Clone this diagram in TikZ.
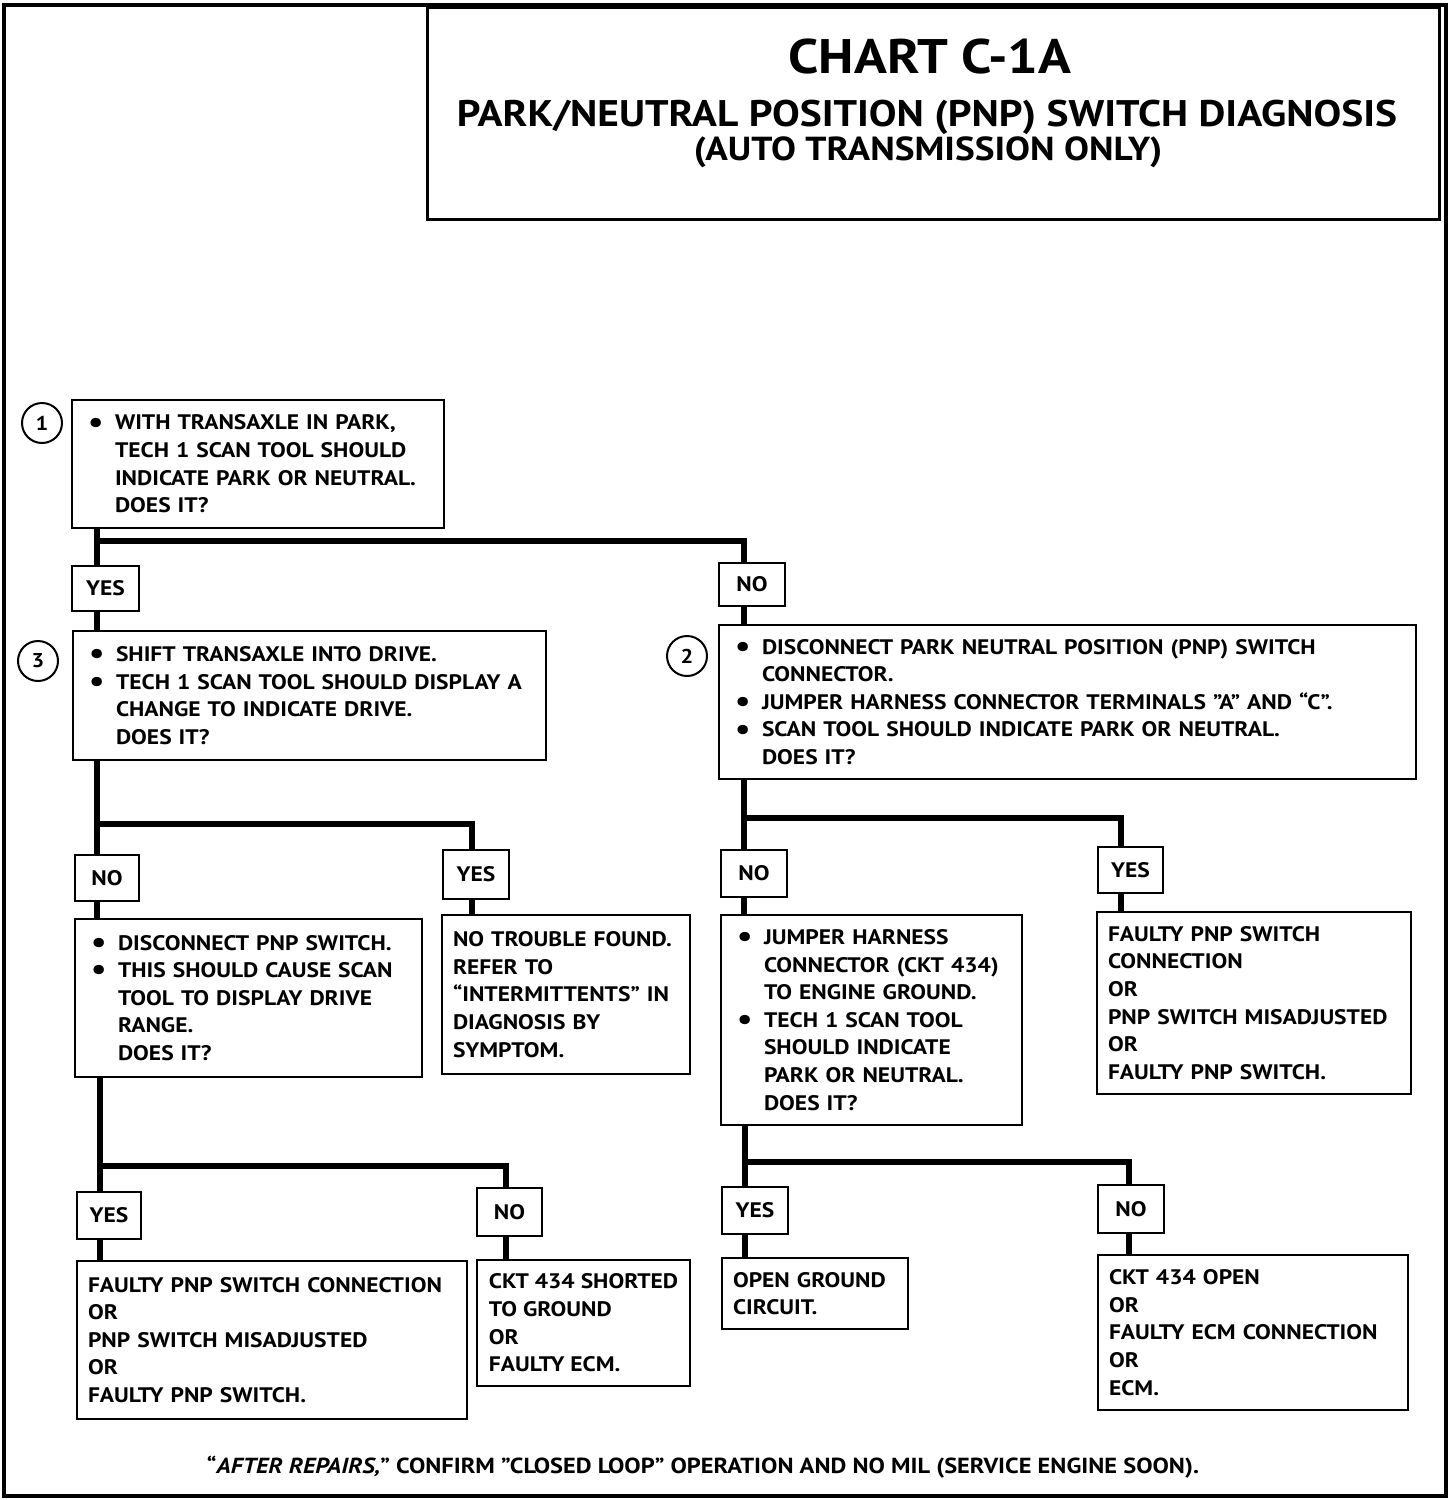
\documentclass[tikz,border=0pt]{standalone}
\usepackage{fontspec}
\setmainfont{PT Sans}[FakeStretch=1.12]
\newcommand\bl{\makebox[27pt][l]{\raisebox{-0.1em}{\scalebox{1.45}{\textbullet}}}}
\newcommand\ind{\hspace*{27pt}}
\newcommand\body{\bfseries\fontsize{21}{27.6}\selectfont}
\tikzset{
  box/.style={draw, line width=2pt, fill=white, anchor=north west, align=left,
    inner ysep=0pt, font=\body},
  bbox/.style={box, inner xsep=16pt},
  tbox/.style={box, inner xsep=11pt},
  lab/.style={draw, line width=2pt, fill=white, anchor=north west, inner sep=0pt,
    font=\body},
  num/.style={draw, circle, line width=2pt, minimum size=40pt, inner sep=0pt,
    font=\bfseries\fontsize{20}{20}\selectfont},
  conn/.style={line width=6.5pt, line cap=butt, line join=miter}
}
\begin{document}
\begin{tikzpicture}[x=1pt,y=-1pt]
\useasboundingbox (0,0) rectangle (1456,1500);
% outer frame
\draw[line width=4pt] (4,5) rectangle (1446,1496);
% title
\node[draw, line width=2.5pt, anchor=north west, minimum width=1012pt, minimum height=212pt, inner sep=0pt] (title) at (426,6) {};
\node[font=\bfseries\fontsize{48.5}{48}\selectfont] (t1txt) at (930,57) {CHART C-1A};
\node[font=\bfseries\fontsize{37}{37}\selectfont] (t2txt) at (927,117) {PARK/NEUTRAL POSITION (PNP) SWITCH DIAGNOSIS};
\node[font=\bfseries\fontsize{33.3}{33}\selectfont] (t3txt) at (928,152) {(AUTO TRANSMISSION ONLY)};

% boxes
\node[bbox, text width=340pt, minimum height=128pt] (b1) at (71,399)
 {\bl WITH TRANSAXLE IN PARK,\\\ind TECH 1 SCAN TOOL SHOULD\\\ind INDICATE PARK OR NEUTRAL.\\\ind DOES IT?};
\node[bbox, text width=441pt, minimum height=129pt] (b3) at (72,630)
 {\bl SHIFT TRANSAXLE INTO DRIVE.\\\bl TECH 1 SCAN TOOL SHOULD DISPLAY A\\\ind CHANGE TO INDICATE DRIVE.\\\ind DOES IT?};
\node[bbox, text width=665pt, minimum height=154pt] (b2) at (718,624)
 {\bl DISCONNECT PARK NEUTRAL POSITION (PNP) SWITCH\\\ind CONNECTOR.\\\bl JUMPER HARNESS CONNECTOR TERMINALS "A" AND “C”.\\\bl SCAN TOOL SHOULD INDICATE PARK OR NEUTRAL.\\\ind DOES IT?};
\node[bbox, text width=315pt, minimum height=158pt] (b4) at (74,918)
 {\bl DISCONNECT PNP SWITCH.\\\bl THIS SHOULD CAUSE SCAN\\\ind TOOL TO DISPLAY DRIVE\\\ind RANGE.\\\ind DOES IT?};
\node[tbox, text width=226pt, minimum height=159pt] (b5) at (441,914)
 {NO TROUBLE FOUND.\\REFER TO\\“INTERMITTENTS” IN\\DIAGNOSIS BY\\SYMPTOM.};
\node[bbox, text width=269pt, minimum height=210pt] (b6) at (720,914)
 {\bl JUMPER HARNESS\\\ind CONNECTOR (CKT 434)\\\ind TO ENGINE GROUND.\\\bl TECH 1 SCAN TOOL\\\ind SHOULD INDICATE\\\ind PARK OR NEUTRAL.\\\ind DOES IT?};
\node[tbox, text width=292pt, minimum height=182pt] (b7) at (1096,911)
 {FAULTY PNP SWITCH\\CONNECTION\\OR\\PNP SWITCH MISADJUSTED\\OR\\FAULTY PNP SWITCH.};
\node[tbox, text width=368pt, minimum height=158pt] (b8) at (76,1260)
 {FAULTY PNP SWITCH CONNECTION\\OR\\PNP SWITCH MISADJUSTED\\OR\\FAULTY PNP SWITCH.};
\node[box, inner xsep=0pt, minimum width=213pt, minimum height=126pt] (b9) at (476,1259)
 {CKT 434 SHORTED\\TO GROUND\\OR\\FAULTY ECM.};
\node[tbox, text width=164pt, minimum height=71pt] (b10) at (721,1257)
 {OPEN GROUND\\CIRCUIT.};
\node[tbox, text width=288pt, minimum height=155pt] (b11) at (1097,1254)
 {CKT 434 OPEN\\OR\\FAULTY ECM CONNECTION\\OR\\ECM.};

% circled numbers
\node[num] (c1) at (42,423) {1};
\node[num] (c3) at (38,661) {3};
\node[num] (c2) at (687,656) {2};

% labels
\node[lab, minimum width=67pt, minimum height=45pt] (yes1) at (71,565) {YES};
\node[lab, minimum width=66pt, minimum height=43pt] (no1) at (718,562) {NO};
\node[lab, minimum width=64pt, minimum height=46pt] (no2) at (74,854) {NO};
\node[lab, minimum width=66pt, minimum height=49pt] (yes2) at (442,849) {YES};
\node[lab, minimum width=66pt, minimum height=47pt] (no3) at (720,849) {NO};
\node[lab, minimum width=65pt, minimum height=46pt] (yes3) at (1097,846) {YES};
\node[lab, minimum width=64pt, minimum height=47pt] (yes4) at (76,1191) {YES};
\node[lab, minimum width=65pt, minimum height=48pt] (no4) at (476,1187) {NO};
\node[lab, minimum width=66pt, minimum height=47pt] (yes5) at (721,1186) {YES};
\node[lab, minimum width=66pt, minimum height=48pt] (no5) at (1097,1184) {NO};

% connectors
\coordinate (j1) at (97,541); \coordinate (j1r) at (744,541);
\draw[conn] (j1 |- b1.south) -- (j1 |- yes1.north);
\draw[conn] (j1 |- yes1.south) -- (j1 |- b3.north);
\draw[conn] (j1) -- (j1r) -- (j1r |- no1.north);
\draw[conn] (j1r |- no1.south) -- (j1r |- b2.north);

\coordinate (j2) at (97,824); \coordinate (j2r) at (472,824);
\draw[conn] (j2 |- b3.south) -- (j2 |- no2.north);
\draw[conn] (j2 |- no2.south) -- (j2 |- b4.north);
\draw[conn] (j2) -- (j2r) -- (j2r |- yes2.north);
\draw[conn] (j2r |- yes2.south) -- (j2r |- b5.north);

\coordinate (j3) at (744,818); \coordinate (j3r) at (1121,818);
\draw[conn] (j3 |- b2.south) -- (j3 |- no3.north);
\draw[conn] (j3 |- no3.south) -- (j3 |- b6.north);
\draw[conn] (j3) -- (j3r) -- (j3r |- yes3.north);
\draw[conn] (j3r |- yes3.south) -- (j3r |- b7.north);

\coordinate (j4) at (100,1166); \coordinate (j4r) at (506,1166);
\draw[conn] (j4 |- b4.south) -- (j4 |- yes4.north);
\draw[conn] (j4 |- yes4.south) -- (j4 |- b8.north);
\draw[conn] (j4) -- (j4r) -- (j4r |- no4.north);
\draw[conn] (j4r |- no4.south) -- (j4r |- b9.north);

\coordinate (j5) at (745,1162); \coordinate (j5r) at (1129,1162);
\draw[conn] (j5 |- b6.south) -- (j5 |- yes5.north);
\draw[conn] (j5 |- yes5.south) -- (j5 |- b10.north);
\draw[conn] (j5) -- (j5r) -- (j5r |- no5.north);
\draw[conn] (j5r |- no5.south) -- (j5r |- b11.north);

% footer
\node[font=\bfseries\fontsize{21.8}{22}\selectfont] (foot) at (703,1467)
 {“\textit{AFTER REPAIRS,}” CONFIRM "CLOSED LOOP" OPERATION AND NO MIL (SERVICE ENGINE SOON).};
\end{tikzpicture}
\end{document}
